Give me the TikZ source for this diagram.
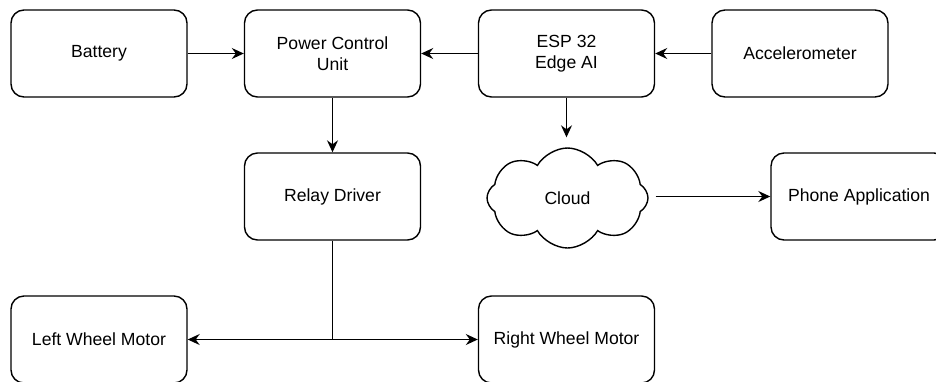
\documentclass[tikz,border=0pt]{standalone}
\usepackage{fontspec}
\setmainfont{Liberation Sans}
\usepackage{tikz}
\usetikzlibrary{shapes.symbols}
\usetikzlibrary{arrows.meta}
\usetikzlibrary{positioning}
\tikzstyle{block}=[rectangle,draw=black,rounded corners=13pt,minimum width=176pt,minimum height=87pt,inner sep=0pt,align=center,font=\fontsize{17.6}{21}\selectfont]
\tikzstyle{net}=[cloud,draw=black,cloud puffs=8,cloud puff arc=120,aspect=1.6,minimum width=161pt,minimum height=100pt,inner sep=0pt,font=\fontsize{17.6}{21}\selectfont]
\tikzstyle{arrow}=[-{Stealth[length=12pt,width=11pt,inset=4pt]}]
\tikzset{every picture/.style={
    line width=1.4pt
  }
}
\begin{document}
\begin{tikzpicture}[x=1pt,y=-1pt]
    \useasboundingbox (0,0) rectangle (936,381);
    \node[block] at (99,53.5) (battery) {Battery};
    \node[block] at (332.5,53.5) (pcu) {Power Control\\Unit};
    \node[block] at (566.5,53.5) (esp) {ESP 32\\Edge AI};
    \node[block] at (800,53.5) (accel) {Accelerometer};
    \node[block] at (332.5,196.5) (relay) {Relay Driver};
    \node[net] at (567.5,198) (cloud) {Cloud};
    \node[block] at (859,196.5) (phone) {Phone Application};
    \node[block] at (99,339.5) (left) {Left Wheel Motor};
    \node[block] at (566.5,339.5) (right) {Right Wheel Motor};
    \coordinate (split) at (relay.south |- left.east);
    \draw[arrow] (battery) -- (pcu);
    \draw[arrow] (esp) -- (pcu);
    \draw[arrow] (accel) -- (esp);
    \draw[arrow] (pcu) -- (relay);
    \draw[arrow,shorten >=10pt] (esp.south) -- (esp.south |- cloud.north);
    \draw[arrow,shorten <=7pt] (cloud.east |- phone.west) -- (phone.west);
    \draw (relay.south) -- (split);
    \draw[arrow] (split) -- (left.east);
    \draw[arrow] (split) -- (right.west);
  \end{tikzpicture}
\end{document}
